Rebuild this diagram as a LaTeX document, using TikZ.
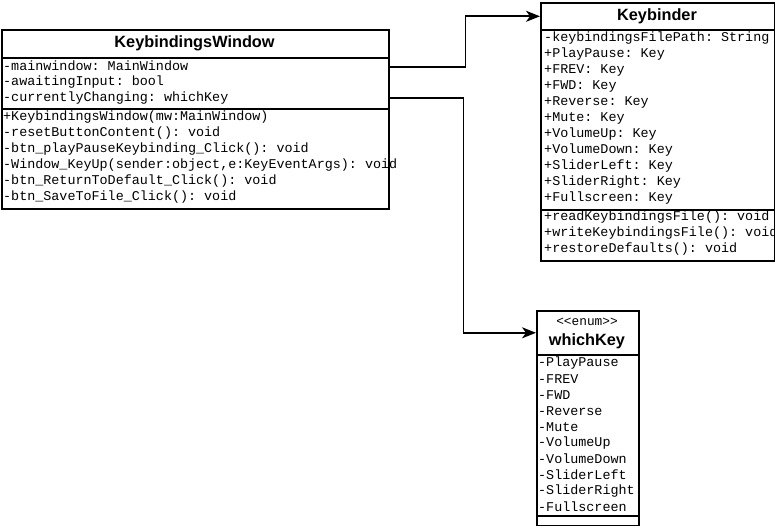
\documentclass[tikz,border=0pt]{standalone}
\usepackage{fontspec}
\setmainfont{Liberation Sans}
\newfontfamily\monof{Liberation Mono}
\usetikzlibrary{arrows.meta}
\frenchspacing
\begin{document}
\begin{tikzpicture}[x=1pt,y=-1pt,
  sect/.style={draw=black, line width=1.6pt, anchor=north west, inner sep=0pt, fill=white},
  title/.style={font=\bfseries\fontsize{16.3}{18}\selectfont, inner sep=0pt},
  stereo/.style={font=\monof\fontsize{12.8}{14}\selectfont, inner sep=0pt},
  row/.style={font=\monof\fontsize{13.4}{15}\selectfont\frenchspacing, anchor=west, inner sep=0pt},
  arr/.style={line width=1.6pt, -{Stealth[length=14pt,width=11pt,inset=4pt]}}]
\useasboundingbox (0,0) rectangle (775,526);

% KeybindingsWindow
\node[sect, minimum width=387pt, minimum height=28pt] (kwh) at (1,29) {};
\node[sect, minimum width=387pt, minimum height=51pt] (kwa) at (1,57) {};
\node[sect, minimum width=387pt, minimum height=100pt] (kwm) at (1,108) {};
\node[title] (kwt) at (194.5,43.5) {KeybindingsWindow};
\node[row] (kwa1) at (3,66) {-mainwindow: MainWindow};
\node[row] (kwa2) at (3,82) {-awaitingInput: bool};
\node[row] (kwa3) at (3,98) {-currentlyChanging: whichKey};
\node[row] (kwm1) at (3,117) {+KeybindingsWindow(mw:MainWindow)};
\node[row] (kwm2) at (3,133) {-resetButtonContent(): void};
\node[row] (kwm3) at (3,149) {-btn\_playPauseKeybinding\_Click(): void};
\node[row] (kwm4) at (3,165) {-Window\_KeyUp(sender:object,e:KeyEventArgs): void};
\node[row] (kwm5) at (3,181) {-btn\_ReturnToDefault\_Click(): void};
\node[row] (kwm6) at (3,197) {-btn\_SaveToFile\_Click(): void};

% Keybinder
\node[sect, minimum width=234pt, minimum height=27pt] (kbh) at (540,2) {};
\node[sect, minimum width=234pt, minimum height=180pt] (kba) at (540,29) {};
\node[sect, minimum width=234pt, minimum height=51pt] (kbm) at (540,209) {};
\node[title] (kbt) at (657,16) {Keybinder};
\foreach \t [count=\i from 0] in {-keybindingsFilePath: String,+PlayPause: Key,+FREV: Key,+FWD: Key,+Reverse: Key,+Mute: Key,+VolumeUp: Key,+VolumeDown: Key,+SliderLeft: Key,+SliderRight: Key,+Fullscreen: Key}
  \node[row] (kbr\i) at (544,{38+16*\i}) {\t};
\node[row] (kbm1) at (544,217) {+readKeybindingsFile(): void};
\node[row] (kbm2) at (544,233) {+writeKeybindingsFile(): void};
\node[row] (kbm3) at (544,249) {+restoreDefaults(): void};

% whichKey
\node[sect, minimum width=102pt, minimum height=44pt] (wkh) at (536,310) {};
\node[sect, minimum width=102pt, minimum height=161pt] (wka) at (536,354) {};
\node[sect, minimum width=102pt, minimum height=10pt] (wkm) at (536,515) {};
\node[stereo] (wks) at (587,322) {<\kern0pt<enum>\kern0pt>};
\node[title] (wkt) at (587,341) {whichKey};
\foreach \t [count=\i from 0] in {-PlayPause,-FREV,-FWD,-Reverse,-Mute,-VolumeUp,-VolumeDown,-SliderLeft,-SliderRight,-Fullscreen}
  \node[row] (wkr\i) at (538,{363+16*\i}) {\t};

% connectors
\draw[arr] ([yshift=-10pt]kwa.north east) -- ++(76,0) |- (kbh.west);
\draw[arr] (kwa.south east |- kwa3) -- ++(74,0) |- (wkh.west);
\end{tikzpicture}
\end{document}
